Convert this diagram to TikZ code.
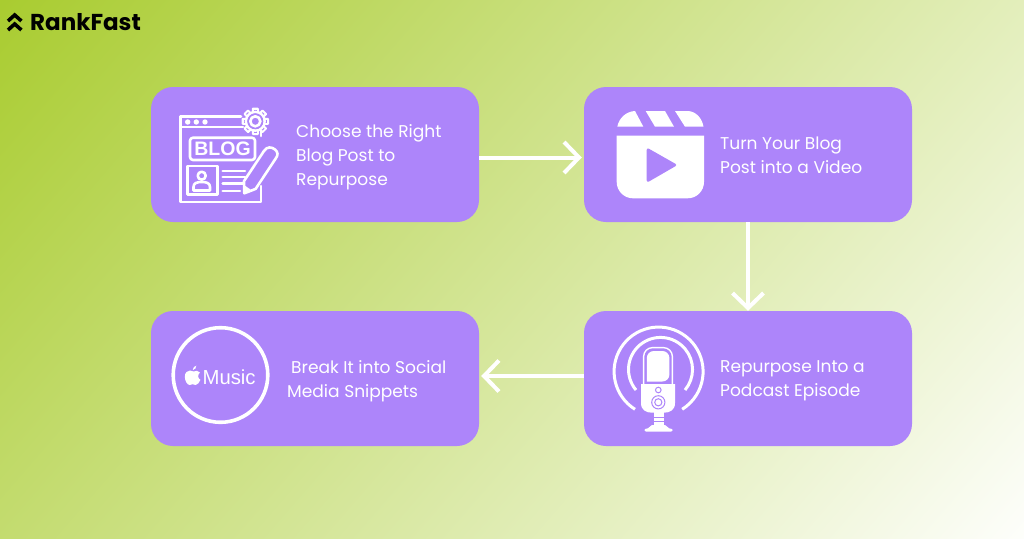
\documentclass[tikz,border=0pt]{standalone}
\usepackage{fontspec}
\setmainfont{Poppins}
\newfontfamily\musicfont{Liberation Sans}
\usepackage{tikz}
\usetikzlibrary{arrows.meta}

\definecolor{boxpurple}{HTML}{AD85FA}
\definecolor{bgstart}{HTML}{A9CC30}
\pgfdeclareverticalshading{bgramp}{100bp}{color(0bp)=(white); color(28bp)=(white); color(75bp)=(bgstart); color(100bp)=(bgstart)}

\begin{document}
\begin{tikzpicture}[x=1pt, y=-1pt,
  stepbox/.style={draw=none, fill=boxpurple, rounded corners=22pt, minimum width=328pt, minimum height=135pt, inner sep=0pt},
  boxtext/.style={anchor=west, align=left, text=white, inner sep=0pt, font=\fontsize{17.05}{24}\selectfont},
  flow/.style={draw=white, line width=4pt, -{Straight Barb[length=15pt, width=31pt, line width=4pt]}},
  icon/.style={draw=white, line width=2.6pt, line join=round, line cap=round}]

\useasboundingbox (0,0) rectangle (1024,538);
\clip (0,0) rectangle (1024,538);
\shade[shading=bgramp, shading angle=49] (-150,-210) rectangle (1072,1012);

% logo
\draw[black, line width=3.6pt, miter limit=4] (8,21) -- (14.7,15) -- (21.4,21);
\draw[black, line width=3.6pt, miter limit=4] (8,30) -- (14.7,24) -- (21.4,30);
\node[anchor=west, inner sep=0pt, text=black, font=\fontsize{23}{24}\bfseries\selectfont] (logotext) at (30,22) {RankFast};

% boxes
\node[stepbox] (chooseblog) at (315,154.5) {};
\node[stepbox] (turnvideo) at (748,154.5) {};
\node[stepbox] (podcast) at (748,378.5) {};
\node[stepbox] (snippets) at (315,378.5) {};

\node[boxtext] (choosetext) at (296,157.5) {Choose the Right\\Blog Post to\\Repurpose};
\node[boxtext] (turntext) at (720,155) {Turn Your Blog\\Post into a Video};
\node[boxtext] (podcasttext) at (720,381) {Repurpose Into a\\Podcast Episode};
\node[boxtext] (snippetstext) at (287,381) {\hspace*{4pt}Break It into Social\\Media Snippets};

% arrows
\draw[flow, shorten >=2pt] (chooseblog.east |- 0,157.5) -- (turnvideo.west |- 0,157.5);
\draw[flow] (turnvideo.south) -- (podcast.north);
\draw[flow, shorten >=2pt] (podcast.west |- 0,376) -- (snippets.east |- 0,376);

% blog icon
\draw[icon] (241,116.7) -- (180.7,116.7) -- (180.7,202) -- (261,202) -- (261,186);
\draw[icon] (261,131) -- (261,136);
\draw[icon] (180.7,127) -- (243,127);
\foreach \dotx in {187.7,196.3,205} \fill[white] (\dotx,122) circle (2.7);
\draw[icon, rounded corners=3pt] (190,137.7) rectangle (255,160);
\node[text=white, inner sep=0pt, font=\musicfont\bfseries\fontsize{19.5}{20}\selectfont] (blogword) at (222.5,149) {BLOG};
\draw[icon] (187.7,166) rectangle (217.7,194.3);
\draw[icon] (201.7,175.7) circle (4);
\draw[icon] (193.5,190.5) -- (193.5,187) .. controls (193.5,183) and (197,182) .. (201.7,182) .. controls (206.4,182) and (210,183) .. (210,187) -- (210,190.5) -- cycle;
\draw[icon] (222.7,171) -- (245,171);
\draw[icon] (222.7,177) -- (245,177);
\draw[icon] (222.7,183.5) -- (243,183.5);
\draw[icon] (222.7,191) -- (240,191);
\draw[icon, fill=boxpurple] (244.3,193.3) -- (244,181.1) -- (263.9,151.1) .. controls (267,146) and (272,147) .. (275,149.5) .. controls (278,152) and (278.5,155) .. (275.5,158.8) -- (255.6,188.9) -- cycle;
\fill[white] (244.3,193.3) -- (244,185) -- (250.5,189.5) -- cycle;
\foreach \gearang in {0,45,...,315} {
  \fill[white, shift={(255.3,121.3)}, rotate=\gearang, rounded corners=1pt] (-3.5,-8) rectangle (3.5,-13.7);
  \fill[boxpurple, shift={(255.3,121.3)}, rotate=\gearang] (-1.3,-8) rectangle (1.3,-11.6);
}
\draw[icon, fill=boxpurple] (255.3,121.3) circle (9.3);
\fill[boxpurple, shift={(255.3,121.3)}] (0,0) circle (8);
\draw[icon] (255.3,121.3) circle (5);

% video icon
\fill[white] (616.7,135.7) -- (704,135.7) -- (704,182) arc[start angle=0, end angle=90, radius=16.3] -- (633,198.3) arc[start angle=90, end angle=180, radius=16.3] -- cycle;
\fill[boxpurple, rounded corners=2.5pt] (646.7,147.5) -- (677.5,165) -- (646.7,182.8) -- cycle;
\fill[white] (617.3,126.7) .. controls (619,118) and (626,111.5) .. (635,111) -- (643.3,126.7) -- cycle;
\fill[white] (645.7,111) -- (665,111) -- (674,126.7) -- (655,126.7) -- cycle;
\fill[white] (675,111) -- (688,111) .. controls (696,111.5) and (702,118) .. (703.5,126.7) -- (685,126.7) -- cycle;

% podcast icon
\draw[white, line width=3pt] (635,409.3) arc[start angle=122, end angle=418, radius=44.5];
\draw[white, line width=3pt] (636,390) arc[start angle=140, end angle=400, radius=32];
\draw[white, line width=1.4pt, rounded corners=9pt] (643.6,385) -- (643.6,347.6) -- (672.4,347.6) -- (672.4,385);
\fill[white, rounded corners=7pt] (646.8,381.5) -- (646.8,351) -- (669.4,351) -- (669.4,381.5) [sharp corners] -- cycle;
\fill[white] (641,384) -- (675,384) -- (675,403) .. controls (675,410) and (670,412.7) .. (664,412.7) -- (652,412.7) .. controls (646,412.7) and (641,410) .. (641,403) -- cycle;
\fill[white] (653.5,412) rectangle (663.5,427);
\fill[white, rounded corners=2pt] (644.5,431.7) -- (644.5,428.5) -- (672.5,428.5) -- (672.5,431.7) -- cycle;
\fill[white] (652,425) -- (665,425) -- (670,429) -- (647,429) -- cycle;
\draw[boxpurple, line width=.8pt] (653.5,417.5) -- (663.5,417.5) (653.5,421) -- (663.5,421);
\draw[boxpurple, line width=1pt] (658.3,390) circle (2.8);
\draw[boxpurple, line width=1pt] (658.3,402.3) circle (6.6);
\draw[boxpurple, line width=1pt] (658.3,402.3) circle (3.6);

% music icon
\draw[white, line width=3.6pt] (220.5,375) circle (47.3);
\node[anchor=west, text=white, inner sep=0pt, font=\musicfont\fontsize{20.3}{24}\selectfont] (musicword) at (202.4,377) {Music};
\fill[white] (193.5,371.5) .. controls (195.5,370.3) and (198.5,370.5) .. (200,372.6) .. controls (197.4,374.4) and (197.6,378.4) .. (200.4,379.8) .. controls (199.4,382.4) and (197.6,385) .. (195.6,385) .. controls (194.5,385) and (193.9,384.2) .. (192.6,384.2) .. controls (191.3,384.2) and (190.7,385) .. (189.6,385) .. controls (187.2,385) and (184.8,380.5) .. (184.8,376.8) .. controls (184.8,372.5) and (187.5,370.5) .. (190,370.5) .. controls (191.3,370.5) and (192.3,371.5) .. (193.5,371.5) -- cycle;
\fill[white] (192.8,370) .. controls (192.7,367.8) and (194.4,366) .. (196.3,365.7) .. controls (196.5,367.9) and (194.8,369.9) .. (192.8,370) -- cycle;
\end{tikzpicture}
\end{document}
